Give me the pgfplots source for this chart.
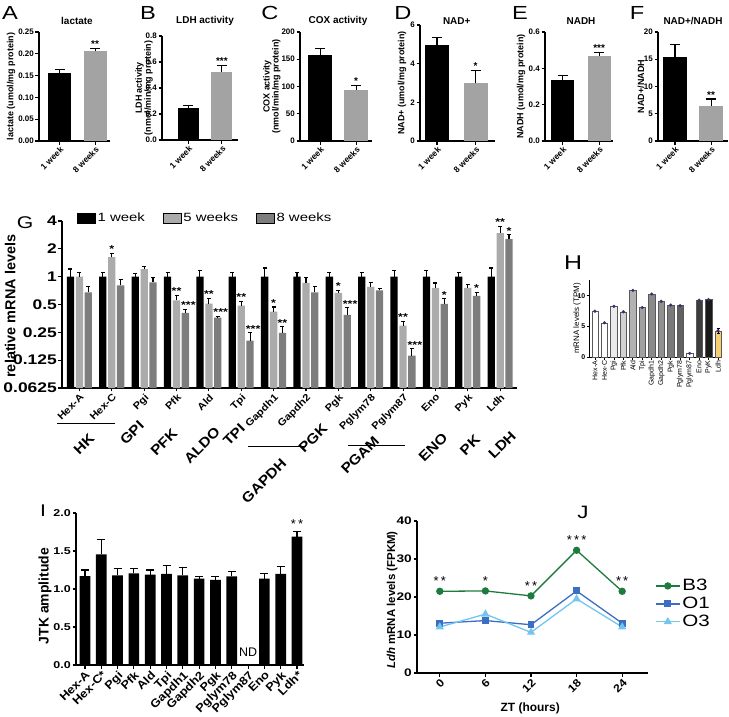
\documentclass[border=0pt]{standalone}
\usepackage{fontspec}
\setmainfont{Liberation Sans}
\newfontfamily\wa{Liberation Sans}[FakeStretch=1.25]
\newfontfamily\wb{Liberation Sans}[FakeStretch=1.12]
\usepackage{pgfplots}
\pgfplotsset{compat=1.18}
\newcommand\fs[1]{\fontsize{#1}{#1}\selectfont}
\definecolor{gA}{HTML}{A3A3A3}
\definecolor{g5}{HTML}{ABABAB}
\definecolor{g8}{HTML}{7D7D7D}
\definecolor{b3}{HTML}{1E7B3E}
\definecolor{o1}{HTML}{3C6EC2}
\definecolor{o3}{HTML}{72C5EE}
\definecolor{ldhY}{HTML}{F6CF72}
\definecolor{dotP}{HTML}{3B2E6E}
\tikzset{star/.style={font=\bfseries\fs{10}, anchor=south, inner sep=0.5bp}}
\pgfplotsset{
  pr/.style={scale only axis, anchor=south west, axis x line*=bottom, axis y line*=left,
    axis line style={line width=1.1bp}, tick style={black, line width=1.1bp},
    major tick length=3.5bp, tick align=outside, clip=false, enlargelimits=false},
  toprow/.style={pr, ymin=0, xtick={0,1}, xticklabels={1 week,8 weeks},
    xticklabel style={rotate=45, anchor=north east, font=\bfseries\fs{8.5}, inner sep=1bp},
    yticklabel style={font=\bfseries\fs{8}, inner sep=1.5bp},
    ylabel style={font=\bfseries\fs{9}, align=center, anchor=center},
    title style={font=\bfseries\fs{10}, anchor=center, yshift=0pt}},
  tbar/.style={ybar, bar shift=0bp, bar width=#1, draw=none},
  eb/.style={error bars/.cd, y dir=plus, y explicit,
    error bar style={black, line width=1.1bp},
    error mark options={rotate=90, black, mark size=#1, line width=1.1bp}, /pgfplots/.cd},
  boxleg/.style={legend image code/.code={\fill[##1] (0bp,-5bp) rectangle (18bp,5bp);}},
}
\begin{document}
\begin{tikzpicture}
\useasboundingbox (0,0) rectangle (729bp,-717bp);
% panel letters
\node[font=\wa\fs{19}] at (10bp,-13bp) {A};
\node[font=\wa\fs{19}] at (148bp,-13bp) {B};
\node[font=\wa\fs{19}] at (270bp,-13bp) {C};
\node[font=\wa\fs{19}] at (403bp,-13bp) {D};
\node[font=\wa\fs{19}] at (520bp,-13bp) {E};
\node[font=\wa\fs{19}] at (637bp,-13bp) {F};
\node[font=\wa\fs{17}] at (25bp,-223bp) {G};
\node[font=\wa\fs{20}] at (573bp,-263bp) {H};
\node[font=\wa\fs{17}] at (43bp,-511bp) {I};
\node[font=\wa\fs{18}] at (583bp,-512bp) {J};

% ---------- A ----------
\begin{axis}[toprow, at={(39bp,-141bp)}, width=71bp, height=109bp,
  xmin=-0.577, xmax=1.42, ymax=0.25,
  ytick={0,0.05,0.1,0.15,0.2,0.25}, yticklabels={0.00,0.05,0.10,0.15,0.20,0.25},
  ylabel={lactate (umol/mg protein)}, ylabel style={at={(axis description cs:-0.394,0.5)}},
  title={lactate}, title style={at={(axis description cs:0.535,1.046)}}]
\addplot[tbar=23bp, fill=black, eb=5bp] coordinates {(0,0.155) +- (0,0.008)};
\addplot[tbar=23bp, fill=gA, eb=5bp] coordinates {(1,0.207) +- (0,0.006)};
\node[star] at (axis cs:1,0.213) {**};
\end{axis}
% ---------- B ----------
\begin{axis}[toprow, at={(162bp,-140bp)}, width=76bp, height=104bp,
  xmin=-0.79, xmax=1.48, ymax=0.8,
  ytick={0,0.2,0.4,0.6,0.8}, yticklabels={0.0,0.2,0.4,0.6,0.8},
  ylabel={LDH activity\\(nmol/min/mg protein)}, ylabel style={at={(axis description cs:-0.237,0.5)}},
  title={LDH activity}, title style={at={(axis description cs:0.566,1.087)}}]
\addplot[tbar=21bp, fill=black, eb=5bp] coordinates {(0,0.25) +- (0,0.015)};
\addplot[tbar=21bp, fill=gA, eb=5bp] coordinates {(1,0.525) +- (0,0.05)};
\node[star] at (axis cs:1,0.575) {***};
\end{axis}
% ---------- C ----------
\begin{axis}[toprow, at={(300bp,-141bp)}, width=72bp, height=109bp,
  xmin=-0.556, xmax=1.44, ymax=200,
  ytick={0,50,100,150,200}, yticklabels={0,50,100,150,200},
  ylabel={COX activity\\(nmol/min/mg protein)}, ylabel style={at={(axis description cs:-0.39,0.5)}},
  title={COX activity}, title style={at={(axis description cs:0.528,1.046)}}]
\addplot[tbar=24bp, fill=black, eb=5bp] coordinates {(0,157) +- (0,13)};
\addplot[tbar=24bp, fill=gA, eb=5bp] coordinates {(1,93) +- (0,9)};
\node[star] at (axis cs:1,102) {*};
\end{axis}
% ---------- D ----------
\begin{axis}[toprow, at={(420bp,-141bp)}, width=75bp, height=116bp,
  xmin=-0.44, xmax=1.5, ymax=6,
  ytick={0,2,4,6}, yticklabels={0,2,4,6},
  ylabel={NAD+ (umol/mg protein)}, ylabel style={at={(axis description cs:-0.24,0.5)}},
  title={NAD+}, title style={at={(axis description cs:0.49,0.983)}}]
\addplot[tbar=24bp, fill=black, eb=5bp] coordinates {(0,4.95) +- (0,0.42)};
\addplot[tbar=24bp, fill=gA, eb=5bp] coordinates {(1,3.0) +- (0,0.65)};
\node[star] at (axis cs:1,3.65) {*};
\end{axis}
% ---------- E ----------
\begin{axis}[toprow, at={(545bp,-141bp)}, width=68bp, height=109bp,
  xmin=-0.48, xmax=1.38, ymax=0.6,
  ytick={0,0.2,0.4,0.6}, yticklabels={0.0,0.2,0.4,0.6},
  ylabel={NADH (umol/mg protein)}, ylabel style={at={(axis description cs:-0.353,0.5)}},
  title={NADH}, title style={at={(axis description cs:0.53,1.046)}}]
\addplot[tbar=23bp, fill=black, eb=5bp] coordinates {(0,0.337) +- (0,0.023)};
\addplot[tbar=23bp, fill=gA, eb=5bp] coordinates {(1,0.47) +- (0,0.017)};
\node[star] at (axis cs:1,0.487) {***};
\end{axis}
% ---------- F ----------
\begin{axis}[toprow, at={(658bp,-141bp)}, width=70bp, height=109bp,
  xmin=-0.47, xmax=1.47, ymax=20,
  ytick={0,5,10,15,20}, yticklabels={0,5,10,15,20},
  ylabel={NAD+/NADH}, ylabel style={at={(axis description cs:-0.243,0.5)}},
  title={NAD+/NADH}, title style={at={(axis description cs:0.5,1.046)}}]
\addplot[tbar=24bp, fill=black, eb=5bp] coordinates {(0,15.4) +- (0,2.3)};
\addplot[tbar=24bp, fill=gA, eb=5bp] coordinates {(1,6.4) +- (0,1.3)};
\node[star] at (axis cs:1,7.7) {**};
\end{axis}

% ---------- G ----------
\begin{axis}[pr, at={(62bp,-388bp)}, width=455bp, height=167bp,
  ymode=log, log basis y=2, log origin y=infty, ymin=0.0625, ymax=4,
  xmin=-0.54, xmax=13.52,
  ytick={0.0625,0.125,0.25,0.5,1,2,4}, yticklabels={0.0625,0.125,0.25,0.5,1,2,4},
  xtick={0,...,13},
  xticklabels={Hex-A,Hex-C,Pgi,Pfk,Ald,Tpi,Gapdh1,Gapdh2,Pgk,Pglym78,Pglym87,Eno,Pyk,Ldh},
  xticklabel style={rotate=45, anchor=north east, font=\wb\bfseries\fs{10}, inner sep=1bp},
  yticklabel style={font=\wa\bfseries\fs{14}, inner sep=1.5bp},
  ylabel={relative mRNA levels}, ylabel style={font=\bfseries\fs{14.5}, anchor=center, at={(axis description cs:-0.114,0.49)}},
  boxleg, legend columns=3,
  legend style={draw=none, fill=none, at={(axis description cs:0.033,1.06)}, anchor=north west,
    font=\wa\fs{12}, inner sep=0pt, /tikz/every even column/.append style={column sep=16bp}},
  ]
\addplot[forget plot, tbar=7.3bp, fill=black, eb=2bp] coordinates {
 (-0.278,1) +- (0,0.21) (0.722,1) +- (0,0.12) (1.722,1) +- (0,0.08) (2.722,1) +- (0,0.12)
 (3.722,1) +- (0,0.16) (4.722,1) +- (0,0.12) (5.722,1) +- (0,0.24) (6.722,1) +- (0,0.12)
 (7.722,1) +- (0,0.12) (8.722,1) +- (0,0.12) (9.722,1) +- (0,0.17) (10.722,1) +- (0,0.16)
 (11.722,1) +- (0,0.12) (12.722,1) +- (0,0.24)};
\addplot[forget plot, tbar=7.3bp, fill=g5, eb=2bp] coordinates {
 (0,1.0) +- (0,0.12) (1,1.63) +- (0,0.17) (2,1.21) +- (0,0.09) (3,0.555) +- (0,0.075)
 (4,0.51) +- (0,0.07) (5,0.487) +- (0,0.053) (6,0.42) +- (0,0.05) (7,0.855) +- (0,0.115)
 (8,0.667) +- (0,0.043) (9,0.774) +- (0,0.096) (10,0.296) +- (0,0.034) (11,0.755) +- (0,0.1)
 (12,0.755) +- (0,0.075) (13,2.96) +- (0,0.53)};
\addplot[forget plot, tbar=7.3bp, fill=g8, eb=2bp] coordinates {
 (0.272,0.677) +- (0,0.109) (1.272,0.806) +- (0,0.124) (2.272,0.87) +- (0,0.10) (3.272,0.406) +- (0,0.034)
 (4.272,0.36) +- (0,0.01) (5.272,0.204) +- (0,0.043) (6.272,0.247) +- (0,0.04) (7.272,0.677) +- (0,0.103)
 (8.272,0.386) +- (0,0.074) (9.272,0.71) +- (0,0.04) (10.272,0.14) +- (0,0.026) (11.272,0.507) +- (0,0.068)
 (12.272,0.62) +- (0,0.057) (13.272,2.55) +- (0,0.29)};
\addlegendimage{boxleg, fill=black}\addlegendentry{1 week}
\addlegendimage{boxleg, fill=g5}\addlegendentry{5 weeks}
\addlegendimage{boxleg, fill=g8}\addlegendentry{8 weeks}
\begin{scope}[every node/.style={font=\wa\bfseries\fs{10}, anchor=south, inner sep=0.5bp}]
\node at (axis cs:1,1.80) {*};
\node at (axis cs:3,0.63) {**};
\node[xshift=3bp] at (axis cs:3.272,0.44) {***};
\node at (axis cs:4,0.58) {**};
\node[xshift=3bp] at (axis cs:4.272,0.37) {***};
\node at (axis cs:5,0.54) {**};
\node[xshift=3bp] at (axis cs:5.272,0.247) {***};
\node at (axis cs:6,0.47) {*};
\node at (axis cs:6.272,0.287) {**};
\node at (axis cs:8,0.71) {*};
\node[xshift=3bp] at (axis cs:8.272,0.46) {***};
\node at (axis cs:10,0.33) {**};
\node[xshift=3bp] at (axis cs:10.272,0.166) {***};
\node at (axis cs:11.272,0.575) {*};
\node at (axis cs:12.272,0.677) {*};
\node at (axis cs:13,3.49) {**};
\node at (axis cs:13.272,2.84) {*};
\end{scope}
\end{axis}
% G group annotations
\draw[line width=1bp] (57bp,-423bp) -- (115bp,-423bp);
\draw[line width=1bp] (248bp,-446bp) -- (306bp,-446bp);
\draw[line width=1bp] (348bp,-445bp) -- (405bp,-445bp);
\begin{scope}[every node/.style={font=\wb\bfseries\fs{14}, rotate=45}]
\node at (84bp,-444bp) {HK};
\node at (132bp,-433bp) {GPI};
\node at (164bp,-442bp) {PFK};
\node at (202bp,-445bp) {ALDO};
\node at (234bp,-435bp) {TPI};
\node at (264bp,-481bp) {GAPDH};
\node at (313bp,-438bp) {PGK};
\node at (360bp,-455bp) {PGAM};
\node at (433bp,-447bp) {ENO};
\node at (470bp,-445bp) {PK};
\node at (502bp,-445bp) {LDH};
\end{scope}

% ---------- H ----------
\begin{axis}[pr, at={(589bp,-357bp)}, width=133bp, height=77bp,
  axis line style={line width=0.8bp}, tick style={line width=0.8bp}, major tick length=2.5bp,
  ymin=0, ymax=12.6, xmin=-0.63, xmax=13.42,
  ytick={0,5,10}, yticklabels={0,5,10},
  xtick={0,...,13},
  xticklabels={Hex-A,Hex-C,Pgi,Pfk,Ald,Tpi,Gapdh1,Gapdh2,Pgk,Pglym78,Pglym87,Eno,PyK,Ldh},
  xticklabel style={rotate=90, anchor=east, font=\fs{7}, inner sep=1bp},
  yticklabel style={font=\bfseries\fs{7}, inner sep=1bp},
  ylabel={mRNA levels (TPM)}, ylabel style={font=\fs{8}, anchor=center, at={(axis description cs:-0.09,0.5)}},
  hb/.style={ybar, bar shift=0bp, bar width=6.5bp, draw=black!65, line width=0.4bp}]
\addplot[hb, fill=white] coordinates {(0,7.5)};
\addplot[hb, fill=white] coordinates {(1,5.6)};
\addplot[hb, fill=black!8] coordinates {(2,8.3)};
\addplot[hb, fill=black!18] coordinates {(3,7.4)};
\addplot[hb, fill=black!30] coordinates {(4,10.9)};
\addplot[hb, fill=black!37] coordinates {(5,8.1)};
\addplot[hb, fill=black!46] coordinates {(6,10.3)};
\addplot[hb, fill=black!43] coordinates {(7,9.1)};
\addplot[hb, fill=black!52] coordinates {(8,8.5)};
\addplot[hb, fill=black!62] coordinates {(9,8.4)};
\addplot[hb, fill=white] coordinates {(10,0.6)};
\addplot[hb, fill=black!76] coordinates {(11,9.3)};
\addplot[hb, fill=black!90] coordinates {(12,9.4)};
\addplot[hb, fill=ldhY, error bars/.cd, y dir=both, y explicit, error bar style={black, line width=0.7bp}, error mark options={rotate=90, black, mark size=1.5bp, line width=0.7bp}] coordinates {(13,4.3) +- (0,0.4)};
\addplot[only marks, mark=*, mark size=1.4bp, color=dotP] coordinates {
 (0,7.5)(1,5.6)(2,8.3)(3,7.4)(4,10.9)(5,8.1)(6,10.3)(7,9.1)(8,8.5)(9,8.4)(10,0.6)(11,9.3)(12,9.4)(13,4.3)};
\end{axis}

% ---------- I ----------
\begin{axis}[pr, at={(76bp,-665bp)}, width=228bp, height=152bp,
  ymin=0, ymax=2, xmin=-0.55, xmax=13.43,
  ytick={0,0.5,1,1.5,2}, yticklabels={0.0,0.5,1.0,1.5,2.0},
  xtick={0,...,13},
  xticklabels={Hex-A,Hex-C*,Pgi,Pfk,Ald,Tpi,Gapdh1,Gapdh2,Pgk,Pglym78,Pglym87,Eno,Pyk,Ldh*},
  xticklabel style={rotate=45, anchor=north east, font=\wb\bfseries\fs{11.5}, inner sep=1bp},
  yticklabel style={font=\wa\bfseries\fs{10}, inner sep=1.5bp},
  ylabel={JTK amplitude}, ylabel style={font=\bfseries\fs{14}, anchor=center, at={(axis description cs:-0.136,0.454)}}]
\addplot[tbar=10.7bp, fill=black, eb=4bp] coordinates {
 (0,1.17) +- (0,0.08) (1,1.455) +- (0,0.2) (2,1.18) +- (0,0.09) (3,1.205) +- (0,0.07)
 (4,1.19) +- (0,0.06) (5,1.2) +- (0,0.11) (6,1.18) +- (0,0.1) (7,1.135) +- (0,0.03)
 (8,1.12) +- (0,0.045) (9,1.166) +- (0,0.064) (11,1.135) +- (0,0.065) (12,1.2) +- (0,0.1)
 (13,1.69) +- (0,0.07)};
\node[font=\fs{12.5}] at (axis cs:10,0.17) {ND};
\node[font=\fs{13}] at (axis cs:13,1.86) {*\,*};
\end{axis}

% ---------- J ----------
\begin{axis}[pr, at={(417bp,-673bp)}, width=231bp, height=152bp,
  ymin=0, ymax=40, xmin=-3, xmax=27.4,
  xtick={0,6,12,18,24}, ytick={0,10,20,30,40},
  xticklabels={0,6,12,18,24}, yticklabels={0,10,20,30,40},
  xticklabel style={rotate=45, anchor=north east, font=\wb\bfseries\fs{11}, inner sep=1bp},
  yticklabel style={font=\wa\bfseries\fs{11}, inner sep=1.5bp},
  xlabel={ZT (hours)}, xlabel style={font=\bfseries\fs{12}, anchor=center, at={(axis description cs:0.49,-0.23)}},
  ylabel={\textit{Ldh} mRNA levels (FPKM)}, ylabel style={font=\bfseries\fs{11.5}, anchor=center, at={(axis description cs:-0.108,0.48)}},
  legend style={draw=none, fill=none, at={(axis description cs:1.03,0.63)}, anchor=north west,
    font=\wa\fs{16.5}, inner sep=0pt, row sep=1bp, cells={anchor=west}},
  legend image code/.code={\draw[mark repeat=2,mark phase=2,#1] plot coordinates {(0bp,0bp)(12bp,0bp)(24bp,0bp)};}]
\addplot[color=b3, line width=1.3bp, mark=*, mark size=3bp] coordinates {(0,21.5)(6,21.6)(12,20.3)(18,32.3)(24,21.5)};
\addlegendentry{B3}
\addplot[color=o1, line width=1.3bp, mark=square*, mark size=2.8bp] coordinates {(0,13.1)(6,13.8)(12,12.7)(18,21.6)(24,13.1)};
\addlegendentry{O1}
\addplot[color=o3, line width=1.3bp, mark=triangle*, mark size=3.5bp] coordinates {(0,12.1)(6,15.5)(12,10.7)(18,19.5)(24,12.1)};
\addlegendentry{O3}
\begin{scope}[every node/.style={font=\fs{13}}]
\node at (axis cs:0,24.3) {*\,*};
\node at (axis cs:6,24.3) {*};
\node at (axis cs:12,22.8) {*\,*};
\node at (axis cs:18,34.9) {*\,*\,*};
\node at (axis cs:24,24.3) {*\,*};
\end{scope}
\end{axis}
\end{tikzpicture}
\end{document}
